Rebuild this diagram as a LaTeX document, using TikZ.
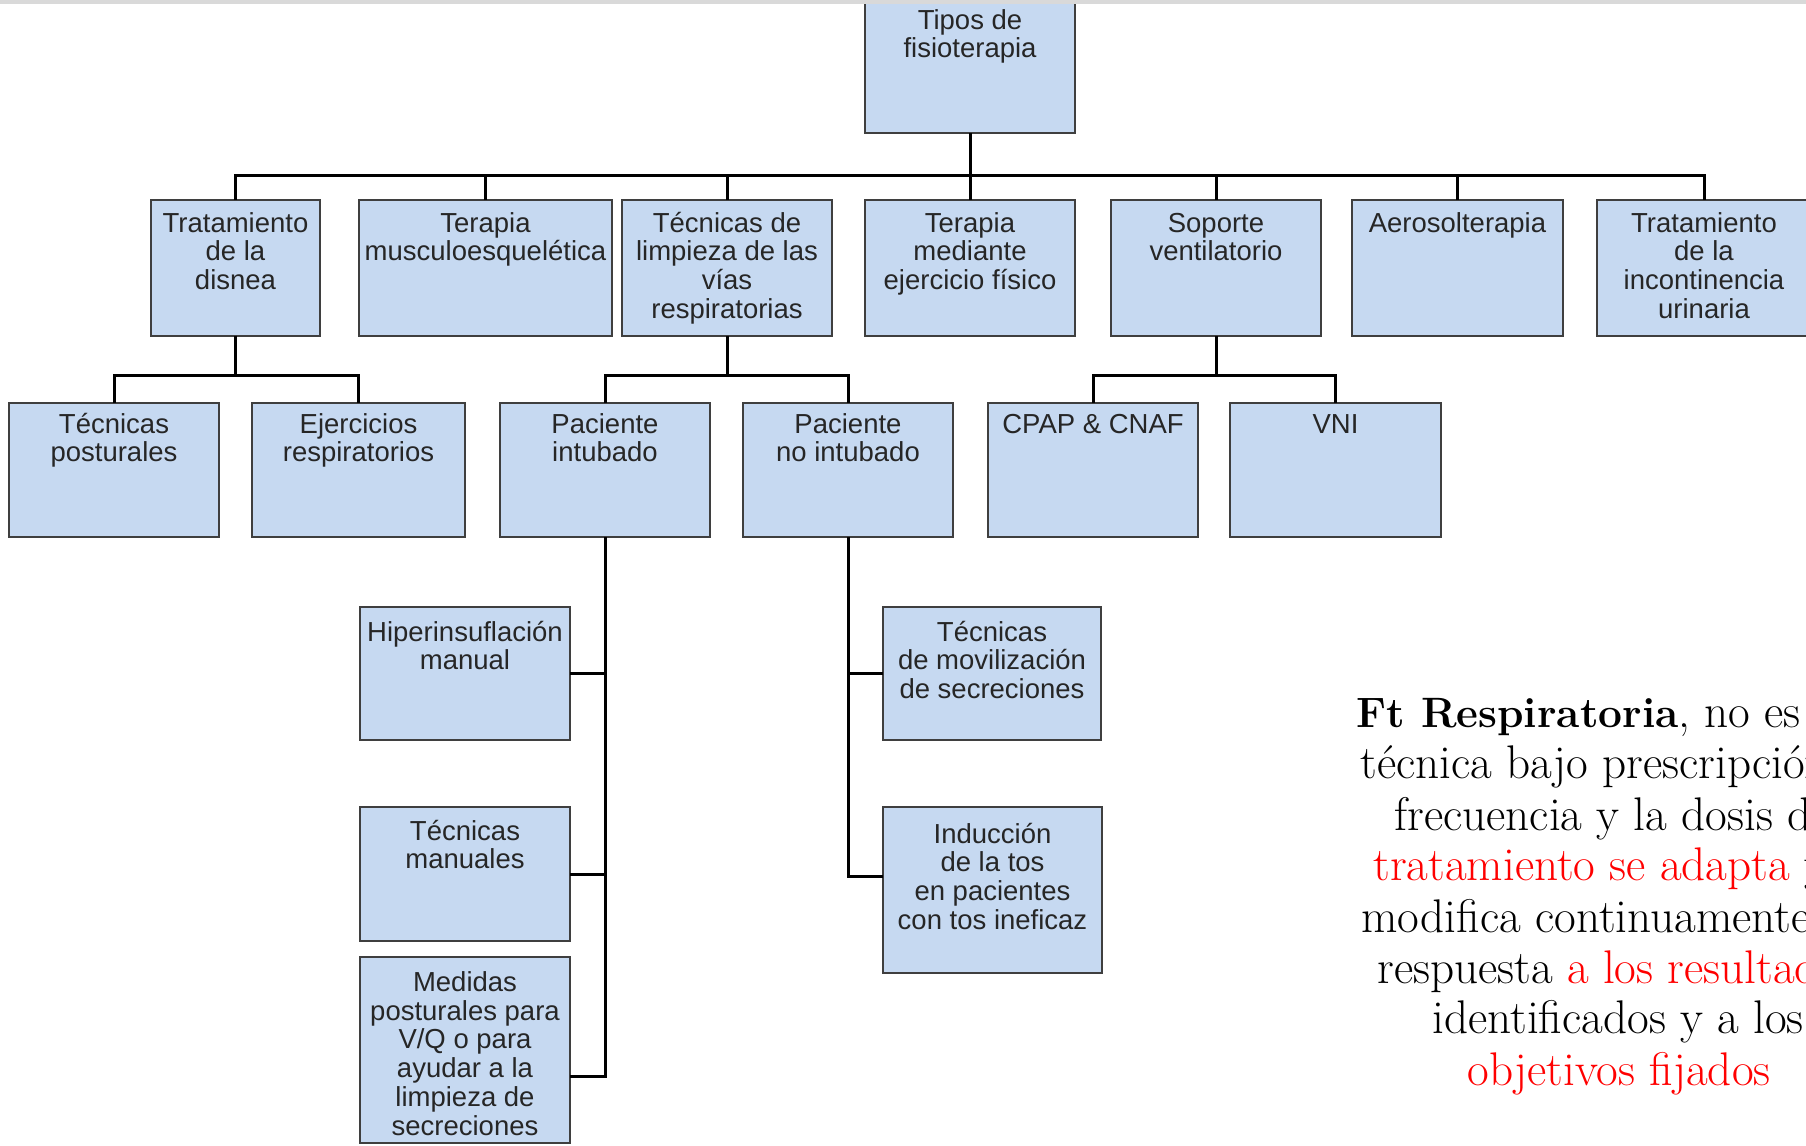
\documentclass[tikz,border=0pt]{standalone}
\usepackage{fontspec}
\newfontfamily\boxfont{Liberation Sans}
\usetikzlibrary{calc}

\definecolor{boxfill}{HTML}{C6D9F1}
\definecolor{boxline}{HTML}{3F3F3F}
\definecolor{boxtext}{HTML}{262626}
\definecolor{rule}{HTML}{D9D9D9}
\definecolor{accent}{HTML}{FF0000}

% centred block of lines whose reference point is the first baseline
\newcommand{\boxlines}[1]{\parbox[t]{150pt}{\centering #1}}
% bold lead-in of the side note, set a little smaller than the body
\newcommand{\leadin}[1]{{\fontsize{21.25}{25.5}\selectfont\bfseries #1}}

\begin{document}
\begin{tikzpicture}[x=0.5pt, y=-0.5pt,
  fbox/.style={draw=boxline, fill=boxfill, line width=1pt, inner sep=0pt, outer sep=0pt},
  ftext/.style={anchor=base, inner sep=0pt, text=boxtext,
    font=\boxfont\fontsize{13.75}{14.4}\selectfont},
  conn/.style={draw=black, line width=1.5pt},
  note/.style={anchor=base west, inner sep=0pt, text=black,
    font=\fontsize{23.6}{25.5}\selectfont}]

\clip (0,0) rectangle (1806,1146);

% ---- root
\node[fbox, minimum width=105pt, minimum height=71.5pt] (tipos) at (970,61.5) {};

% ---- first level
\node[fbox, minimum width=84.5pt,  minimum height=68pt] (disnea)    at (235.5,268) {};
\node[fbox, minimum width=126.5pt, minimum height=68pt] (musculo)   at (485.5,268) {};
\node[fbox, minimum width=105pt,   minimum height=68pt] (limpieza)  at (727,268) {};
\node[fbox, minimum width=105pt,   minimum height=68pt] (ejercicio) at (970,268) {};
\node[fbox, minimum width=105pt,   minimum height=68pt] (soporte)   at (1216,268) {};
\node[fbox, minimum width=105.5pt, minimum height=68pt] (aerosol)   at (1457.5,268) {};
\node[fbox, minimum width=107.5pt, minimum height=68pt] (incont)    at (1704.5,268) {};

% ---- second level
\node[fbox, minimum width=105pt,   minimum height=67pt] (posturales) at (114,470) {};
\node[fbox, minimum width=106.5pt, minimum height=67pt] (ejresp)     at (358.5,470) {};
\node[fbox, minimum width=105pt,   minimum height=67pt] (intubado)   at (605,470) {};
\node[fbox, minimum width=105pt,   minimum height=67pt] (nointubado) at (848,470) {};
\node[fbox, minimum width=105pt,   minimum height=67pt] (cpap)       at (1093,470) {};
\node[fbox, minimum width=105.5pt, minimum height=67pt] (vni)        at (1335.5,470) {};

% ---- third level
\node[fbox, minimum width=105pt,   minimum height=66.5pt]  (hiper)     at (465,673.5) {};
\node[fbox, minimum width=105pt,   minimum height=67pt]    (manuales)  at (465,874) {};
\node[fbox, minimum width=105pt,   minimum height=92.75pt] (medidas)   at (465,1050) {};
\node[fbox, minimum width=109pt,   minimum height=66.5pt]  (movsec)    at (992,673.5) {};
\node[fbox, minimum width=109.5pt, minimum height=83pt]    (induccion) at (992.5,890) {};

% ---- box texts
\node[ftext] (tipos-t)      at ($(tipos.north)+(0,39)$)      {\boxlines{Tipos de\\fisioterapia}};
\node[ftext] (disnea-t)     at ($(disnea.north)+(0,32)$)     {\boxlines{Tratamiento\\de la\\disnea}};
\node[ftext] (musculo-t)    at ($(musculo.north)+(0,32)$)    {\boxlines{Terapia\\musculoesquelética}};
\node[ftext] (limpieza-t)   at ($(limpieza.north)+(0,32)$)   {\boxlines{Técnicas de\\limpieza de las\\vías\\respiratorias}};
\node[ftext] (ejercicio-t)  at ($(ejercicio.north)+(0,32)$)  {\boxlines{Terapia\\mediante\\ejercicio físico}};
\node[ftext] (soporte-t)    at ($(soporte.north)+(0,32)$)    {\boxlines{Soporte\\ventilatorio}};
\node[ftext] (aerosol-t)    at ($(aerosol.north)+(0,32)$)    {\boxlines{Aerosolterapia}};
\node[ftext] (incont-t)     at ($(1704,200)+(0,32)$)         {\boxlines{Tratamiento\\de la\\incontinencia\\urinaria}};

\node[ftext] (posturales-t) at ($(posturales.north)+(0,30)$) {\boxlines{Técnicas\\posturales}};
\node[ftext] (ejresp-t)     at ($(ejresp.north)+(0,30)$)     {\boxlines{Ejercicios\\respiratorios}};
\node[ftext] (intubado-t)   at ($(intubado.north)+(0,30)$)   {\boxlines{Paciente\\intubado}};
\node[ftext] (nointubado-t) at ($(nointubado.north)+(0,30)$) {\boxlines{Paciente\\no intubado}};
\node[ftext] (cpap-t)       at ($(cpap.north)+(0,30)$)       {\boxlines{CPAP \& CNAF}};
\node[ftext] (vni-t)        at ($(vni.north)+(0,30)$)        {\boxlines{VNI}};

\node[ftext] (hiper-t)      at ($(hiper.north)+(0,34)$)      {\boxlines{Hiperinsuflación\\manual}};
\node[ftext] (manuales-t)   at ($(manuales.north)+(0,33)$)   {\boxlines{Técnicas\\manuales}};
\node[ftext] (medidas-t)    at ($(medidas.north)+(0,34)$)    {\boxlines{Medidas\\posturales para\\V/Q o para\\ayudar a la\\limpieza de\\secreciones}};
\node[ftext] (movsec-t)     at ($(movsec.north)+(0,34)$)     {\boxlines{Técnicas\\de movilización\\de secreciones}};
\node[ftext] (induccion-t)  at ($(induccion.north)+(0,36)$)  {\boxlines{Inducción\\de la tos\\en pacientes\\con tos ineficaz}};

% ---- connectors: root to first level
\coordinate (bus1) at (0,175);
\draw[conn] (tipos.south) -- (tipos.south |- bus1);
\draw[conn] (disnea.north) -- (disnea.north |- bus1) -- (incont.north |- bus1) -- (incont.north);
\foreach \n in {musculo,limpieza,ejercicio,soporte,aerosol}
  \draw[conn] (\n.north) -- (\n.north |- bus1);

% ---- first to second level
\coordinate (bus2) at (0,375.5);
\draw[conn] (disnea.south) -- (disnea.south |- bus2);
\draw[conn] (posturales.north) -- (posturales.north |- bus2) -- (ejresp.north |- bus2) -- (ejresp.north);
\draw[conn] (limpieza.south) -- (limpieza.south |- bus2);
\draw[conn] (intubado.north) -- (intubado.north |- bus2) -- (nointubado.north |- bus2) -- (nointubado.north);
\draw[conn] (soporte.south) -- (soporte.south |- bus2);
\draw[conn] (cpap.north) -- (cpap.north |- bus2) -- (vni.north |- bus2) -- (vni.north);

% ---- second to third level
\path (medidas.north east) ++(0,119.5) coordinate (medpin);
\path (induccion.north west) ++(0,69) coordinate (indpin);
\draw[conn] (intubado.south) -- (intubado.south |- medpin) -- (medpin);
\draw[conn] (hiper.east) -- (hiper.east -| intubado.south);
\draw[conn] (manuales.east) -- (manuales.east -| intubado.south);
\draw[conn] (nointubado.south) -- (nointubado.south |- indpin) -- (indpin);
\draw[conn] (movsec.west) -- (movsec.west -| nointubado.south);

% ---- thin rule along the top edge
\draw[rule, line width=2pt] (0,2) -- (1806,2);

% ---- side note
\node[note] (n1) at (1356,727)  {\leadin{Ft Respiratoria}, no es};
\node[note] (n2) at (1360,778)  {técnica bajo prescripción};
\node[note] (n3) at (1394,830)  {frecuencia y la dosis del};
\node[note] (n4) at (1373,880)  {\textcolor{accent}{tratamiento se adapta} y};
\node[note] (n5) at (1361,932)  {modifica continuamente};
\node[note] (n6) at (1377,983)  {respuesta \textcolor{accent}{a los resultados}};
\node[note] (n7) at (1432,1033) {identificados y a los};
\node[note] (n8) at (1467,1085) {\textcolor{accent}{objetivos fijados}};

\end{tikzpicture}
\end{document}
